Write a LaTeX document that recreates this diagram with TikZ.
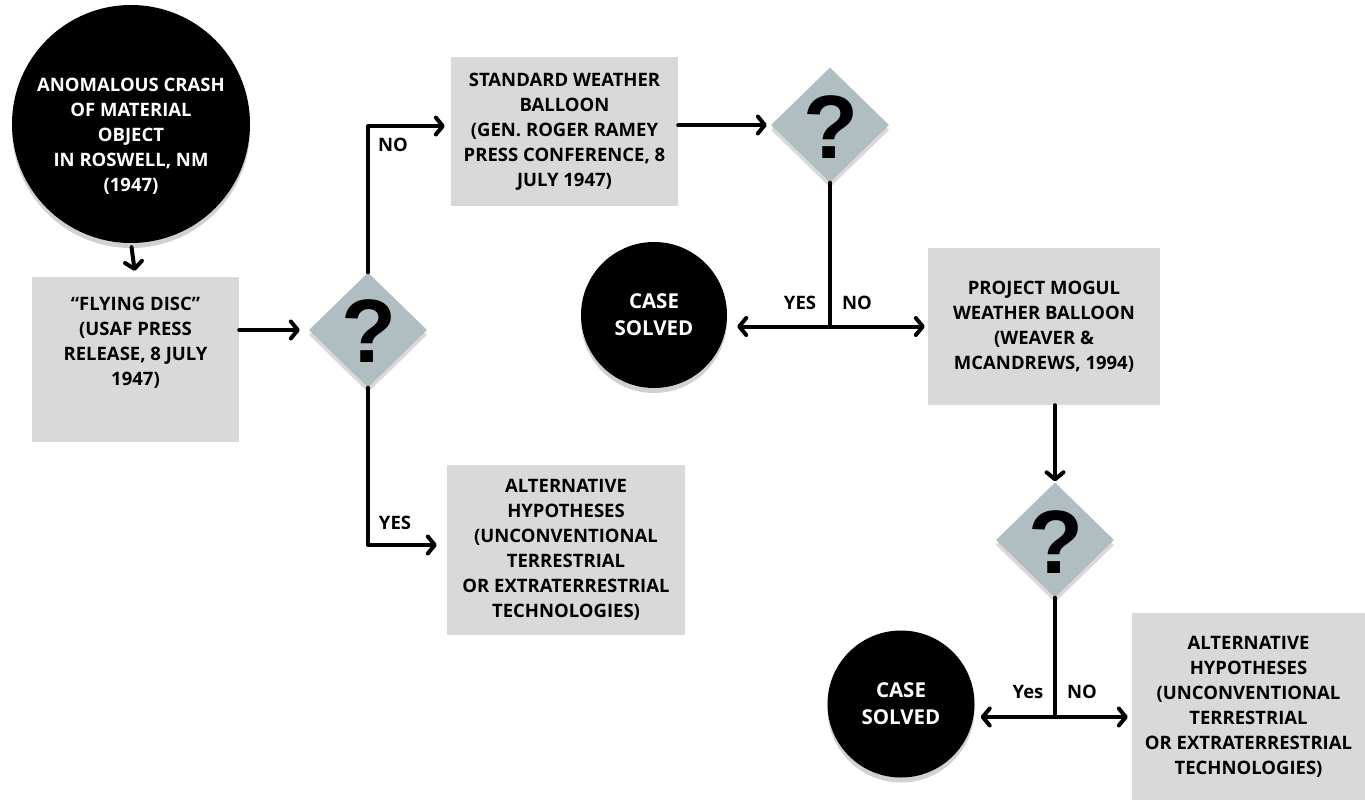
\documentclass[tikz,border=0pt]{standalone}
\usepackage{fontspec}
\setmainfont{Open Sans}
\newfontfamily\qfont{Liberation Sans}
\usetikzlibrary{arrows.meta,shapes.geometric,shadows,calc}
\definecolor{boxgray}{RGB}{217,217,217}
\definecolor{diagray}{RGB}{176,189,193}
\begin{document}
\begin{tikzpicture}[x=1pt,y=-1pt,
  txt/.style={font=\fontsize{18.5}{25}\selectfont\bfseries, align=center, inner sep=0},
  box/.style={txt, fill=boxgray},
  circ/.style={txt, circle, fill=black, text=white,
    drop shadow={shadow xshift=0pt, shadow yshift=-5pt, opacity=0.18, fill=black}},
  big/.style={font=\fontsize{20.5}{27}\selectfont\bfseries},
  dia/.style={diamond, fill=diagray, minimum width=118, minimum height=115, inner sep=0,
    drop shadow={shadow xshift=0pt, shadow yshift=-5pt, opacity=0.15, fill=black}},
  qm/.style={font=\qfont\bfseries\fontsize{90}{90}\selectfont, inner sep=0},
  lab/.style={txt},
  conn/.style={line width=4, line cap=round, line join=round},
  arr/.style={conn, -{Straight Barb[length=7pt,width=17pt,line join=round,line cap=round]}}
]
\useasboundingbox (0,0) rectangle (1365,800);

% nodes
\node[circ, minimum size=238] (c0) at (131,124) {};
\node[txt, text=white] (c0t) at (131,136) {ANOMALOUS CRASH\\OF MATERIAL\\OBJECT\\IN ROSWELL, NM\\(1947)};

\node[box, minimum width=207, minimum height=165] (fd) at (135.5,359.5) {};
\node[txt] (fdt) at (135.5,343) {``FLYING DISC''\\(USAF PRESS\\RELEASE, 8 JULY\\1947)};

\node[dia] (d1) at (368,330) {};
\node[qm] (q1) at (369,331) {?};

\node[box, minimum width=227, minimum height=149] (sw) at (564.5,131.5)
  {STANDARD WEATHER\\BALLOON\\(GEN. ROGER RAMEY\\PRESS CONFERENCE, 8\\JULY 1947)};

\node[dia] (d2) at (830,125) {};
\node[qm] (q2) at (831,127) {?};

\node[circ, big, minimum size=146] (cs1) at (654,315) {CASE\\SOLVED};

\node[box, minimum width=232, minimum height=157] (mog) at (1044,326.5)
  {PROJECT MOGUL\\WEATHER BALLOON\\(WEAVER \&\\MCANDREWS, 1994)};

\node[dia] (d3) at (1055,540) {};
\node[qm] (q3) at (1056,542) {?};

\node[circ, big, minimum size=147] (cs2) at (901,704) {CASE\\SOLVED};

\node[box, minimum width=238, minimum height=170] (alt1) at (566,550)
  {ALTERNATIVE\\HYPOTHESES\\(UNCONVENTIONAL\\TERRESTRIAL\\OR EXTRATERRESTRIAL\\TECHNOLOGIES)};

\node[box, minimum width=233, minimum height=187] (alt2) at (1248.5,706.5)
  {ALTERNATIVE\\HYPOTHESES\\(UNCONVENTIONAL\\TERRESTRIAL\\OR EXTRATERRESTRIAL\\TECHNOLOGIES)};

% labels
\node[lab] (l1) at (393,145) {NO};
\node[lab] (l2) at (395,523) {YES};
\node[lab] (l3) at (800,303) {YES};
\node[lab] (l4) at (857,303) {NO};
\node[lab] (l5) at (1028,692) {Yes};
\node[lab] (l6) at (1082,692) {NO};

% junctions
\coordinate (j1) at (d2.south |- mog.west);
\coordinate (j2) at ($(d3.south |- cs2.east)+(0,13)$);

% connectors
\draw[arr, shorten <=4pt, shorten >=6pt] (c0.south) -- (fd.north);
\draw[arr, shorten >=9pt] (fd.east |- d1.west) -- (d1.west);
\draw[arr, shorten >=6pt] (d1.north) |- ([yshift=5.5pt]sw.west);
\draw[arr, shorten >=10pt] (d1.south) |- ([yshift=5pt]alt1.west);
\draw[arr, shorten >=4pt] (sw.east |- d2.west) -- (d2.west);
\draw[conn] (d2.south) -- (j1);
\draw[arr, shorten >=10pt] (j1) -- (cs1.east |- j1);
\draw[arr, shorten >=3pt] (j1) -- (mog.west);
\draw[arr, shorten >=1pt] (d3.north |- mog.south) -- (d3.north);
\draw[conn] (d3.south) -- (j2);
\draw[arr, shorten >=6pt] (j2) -- (cs2.east |- j2);
\draw[arr, shorten >=4pt] (j2) -- (alt2.west |- j2);
\end{tikzpicture}
\end{document}
